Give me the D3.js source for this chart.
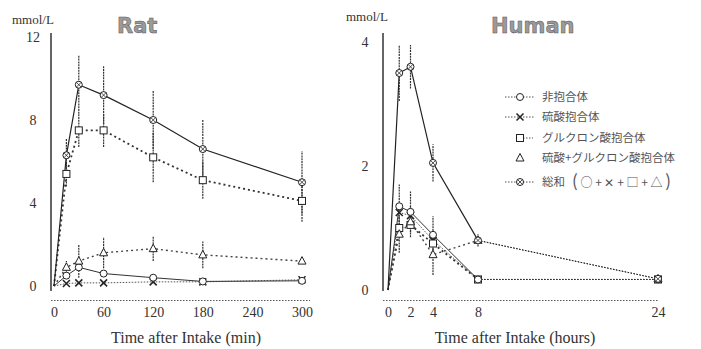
<!DOCTYPE html>
<html>
<head>
<meta charset="utf-8">
<script src="https://cdn.jsdelivr.net/npm/d3@7"></script>
<style>
body{margin:0;background:#fff;}
svg text{font-family:"Liberation Serif",serif;fill:#333;}
</style>
</head>
<body>
<div id="graph"></div>
<script>
// rat data (min)
var ratTimes = [0, 15, 30, 60, 120, 180, 300];
var ratTotal = [0, 6.3, 9.7, 9.2, 8.0, 6.6, 5.0];
var ratTotalSd = [0, 0.8, 1.4, 1.4, 1.4, 1.4, 1.5];
var ratGluc = [0, 5.4, 7.5, 7.5, 6.2, 5.1, 4.1];
var ratGlucSd = [0, 0.6, 0.8, 0.8, 1.2, 0.9, 1.0];
var ratSulfGluc = [0, 0.9, 1.2, 1.6, 1.8, 1.5, 1.2];
var ratSulfGlucSd = [0, 0.3, 0.8, 0.75, 0.6, 0.65, 0];
var ratFree = [0, 0.5, 0.9, 0.6, 0.4, 0.22, 0.25];
var ratSulf = [0, 0.12, 0.15, 0.15, 0.2, 0.2, 0.3];

// human data (hours)
var humTimes = [0, 1, 2, 4, 8, 24];
var humTotal = [0, 3.5, 3.6, 2.05, 0.8, 0.18];
var humTotalSd = [0, 0.45, 0.35, 0.3, 0.1, 0];
var humFree = [0, 1.35, 1.26, 0.89, 0.17, 0.17];
var humFreeSd = [0, 0.35, 0.33, 0.3, 0, 0];
var humSulf = [0, 1.25, 1.2, 0.8, 0.17, 0.17];
var humGluc = [0, 1.0, 1.05, 0.75, 0.17, 0.17];
var humSulfGluc = [0, 0.9, 1.1, 0.57, 0.8, 0.18];
var humSulfGlucSd = [0, 0.3, 0.25, 0.33, 0, 0];

var ratXTicks = [0, 60, 120, 180, 240, 300];
var ratYTicks = [0, 4, 8, 12];
var humXTicks = [0, 2, 4, 8, 24];
var humYTicks = [0, 2, 4];

var legendLabels = ["非抱合体", "硫酸抱合体", "グルクロン酸抱合体", "硫酸+グルクロン酸抱合体", "総和"];
var legendTypes = ["circle", "x", "square", "triangle", "total"];

var svgWidth = 701, svgHeight = 349;
var lineColor = "#222";

var $svg = d3.select("#graph").append("svg")
    .attr("width", svgWidth).attr("height", svgHeight);

var styles = {
    total: {dash: null, w: 1.2, c: "#222"},
    free: {dash: null, w: 1, c: "#333"},
    sulf: {dash: "1.5,1.5", w: 1, c: "#555"},
    gluc: {dash: "2,3", w: 1.8, c: "#333"},
    sulfGluc: {dash: "2,3", w: 1.4, c: "#444"}
};

function drawMarker(g, type, x, y){
    var s = 3.5;
    if (type=="circle"){
        g.append("circle").attr("cx",x).attr("cy",y).attr("r",s)
            .attr("fill","#fff").attr("stroke",lineColor).attr("stroke-width",1);
    } else if (type=="square"){
        g.append("rect").attr("x",x-s).attr("y",y-s).attr("width",2*s).attr("height",2*s)
            .attr("fill","#fff").attr("stroke",lineColor).attr("stroke-width",1);
    } else if (type=="triangle"){
        g.append("path").attr("d",`M${x},${y-s-1} L${x+s+0.5},${y+s-0.5} L${x-s-0.5},${y+s-0.5}Z`)
            .attr("fill","#fff").attr("stroke",lineColor).attr("stroke-width",1);
    } else if (type=="x"){
        g.append("path").attr("d",`M${x-s},${y-s} L${x+s},${y+s} M${x+s},${y-s} L${x-s},${y+s}`)
            .attr("stroke",lineColor).attr("stroke-width",1.5);
    } else {
        g.append("circle").attr("cx",x).attr("cy",y).attr("r",s)
            .attr("fill","#fff").attr("stroke",lineColor).attr("stroke-width",1);
        var q = s*0.7;
        g.append("path").attr("d",`M${x-q},${y-q} L${x+q},${y+q} M${x+q},${y-q} L${x-q},${y+q}`)
            .attr("stroke",lineColor).attr("stroke-width",0.8);
    }
}

function panel(opts){
    var x = d3.scaleLinear().domain(opts.xDomain).range(opts.xRange);
    var y = d3.scaleLinear().domain(opts.yDomain).range(opts.yRange);
    var g = $svg.append("g");

    // y axis line
    g.append("line").attr("x1",opts.axisX).attr("x2",opts.axisX)
        .attr("y1",33).attr("y2",291)
        .attr("stroke","#333").attr("stroke-width",1.5);
    opts.yTicks.forEach(t=>{
        g.append("text").attr("x",opts.axisX-18).attr("y",y(t)+5)
            .attr("text-anchor","middle").attr("font-size",14).text(t);
    });

    // x axis (dotted, no ticks)
    var $xAxis = g.append("g").attr("transform",`translate(0,300)`)
        .call(d3.axisBottom(x).tickValues(opts.xTicks).tickSize(0).tickPadding(7).tickSizeOuter(0));
    $xAxis.select(".domain").attr("stroke","#555").attr("stroke-dasharray","1.5,1.5")
        .attr("d",`M${opts.axisX},0.5H${opts.xAxisEnd}`);
    $xAxis.selectAll(".tick text").attr("font-size",14).attr("font-family","Liberation Serif").attr("fill","#333");

    g.append("text").attr("x",opts.xTitleX).attr("y",343).attr("text-anchor","middle")
        .attr("font-size",16).text(opts.xTitle);
    g.append("text").attr("x",opts.unitX).attr("y",opts.unitY)
        .attr("font-size",13).text("mmol/L");
    g.append("text").attr("x",opts.titleX).attr("y",33)
        .attr("font-size",21).attr("font-weight","bold")
        .style("font-family","DejaVu Sans")
        .style("fill","#9a9a9a").attr("stroke","#555").attr("stroke-width",0.5)
        .text(opts.title);

    var times = opts.times;
    var line = d3.line().x(d=>x(d[0])).y(d=>y(d[1]));

    // error bars
    opts.series.forEach(s=>{
        if (!s.sd) return;
        times.forEach((t,i)=>{
            if (!s.sd[i]) return;
            g.append("line").attr("x1",x(t)).attr("x2",x(t))
                .attr("y1",y(s.values[i]-s.sd[i])).attr("y2",y(s.values[i]+s.sd[i]))
                .attr("stroke","#333").attr("stroke-width",1.2)
                .attr("stroke-dasharray","2,0.8");
        });
    });

    // lines
    opts.series.forEach(s=>{
        var st = styles[s.key];
        var pts = times.map((t,i)=>[t, s.values[i]]);
        var segs = s.split!=null ? [pts.filter(p=>p[0]<=s.split), pts.filter(p=>p[0]>=s.split)] : [pts];
        segs.forEach((seg,k)=>{
            g.append("path").attr("d",line(seg)).attr("fill","none")
                .attr("stroke",st.c).attr("stroke-width",k==1?1:st.w)
                .attr("stroke-dasharray",k==1?"1.5,1.5":st.dash);
        });
    });

    // markers
    opts.series.forEach(s=>{
        times.forEach((t,i)=>{
            if (i==0) return;
            drawMarker(g, s.marker, x(t), y(s.values[i]));
        });
    });
}

panel({
    title:"Rat", titleX:117, unitX:12, unitY:24,
    xDomain:[0,300], xRange:[54,302], yDomain:[0,12], yRange:[286,37],
    axisX:51, xAxisEnd:310, xTicks:ratXTicks, yTicks:ratYTicks,
    xTitle:"Time after Intake (min)", xTitleX:186,
    times:ratTimes,
    series:[
        {key:"sulf", values:ratSulf, marker:"x"},
        {key:"free", values:ratFree, marker:"circle"},
        {key:"sulfGluc", values:ratSulfGluc, sd:ratSulfGlucSd, marker:"triangle"},
        {key:"gluc", values:ratGluc, sd:ratGlucSd, marker:"square"},
        {key:"total", values:ratTotal, sd:ratTotalSd, marker:"total"}
    ]
});

panel({
    title:"Human", titleX:491, unitX:346, unitY:21,
    xDomain:[0,24], xRange:[388,658], yDomain:[0,4], yRange:[290,42],
    axisX:383, xAxisEnd:658, xTicks:humXTicks, yTicks:humYTicks,
    xTitle:"Time after Intake (hours)", xTitleX:515,
    times:humTimes,
    series:[
        {key:"sulf", values:humSulf, marker:"x", split:8},
        {key:"gluc", values:humGluc, marker:"square", split:8},
        {key:"free", values:humFree, sd:humFreeSd, marker:"circle", split:8},
        {key:"sulfGluc", values:humSulfGluc, sd:humSulfGlucSd, marker:"triangle", split:8},
        {key:"total", values:humTotal, sd:humTotalSd, marker:"total", split:8}
    ]
});

// legend
var $legend = $svg.append("g");
var legendY = [97, 117, 138, 158, 182];
legendTypes.forEach((t,i)=>{
    var ly = legendY[i];
    if (t=="circle" || t=="x" || t=="total"){
        $legend.append("line").attr("x1",505).attr("x2",535).attr("y1",ly).attr("y2",ly)
            .attr("stroke","#555").attr("stroke-dasharray","1.5,1.5");
    } else if (t=="square"){
        $legend.append("line").attr("x1",520).attr("x2",533).attr("y1",ly).attr("y2",ly)
            .attr("stroke","#555").attr("stroke-dasharray","1.5,1.5");
    }
    drawMarker($legend, t, 520, ly);
    $legend.append("text").attr("x",542).attr("y",ly+4)
        .attr("font-size",11.5).style("font-family","Noto Sans CJK JP").style("fill","#555")
        .text(legendLabels[i]);
});
// (○+✕+□+△) annotation
var $ann = $legend.append("text").attr("x",572).attr("y",187)
    .style("font-family","Noto Sans CJK JP").style("fill","#555").attr("font-size",12);
$ann.append("tspan").attr("font-size",17).text("(");
$ann.append("tspan").text(" ○ + ✕ + □ + △ ");
$ann.append("tspan").attr("font-size",17).text(")");
</script>
</body>
</html>
